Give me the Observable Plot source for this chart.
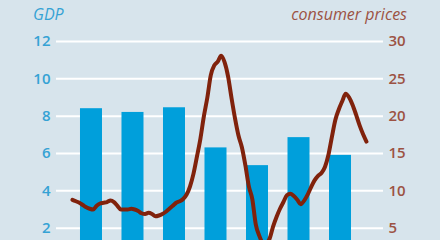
<!DOCTYPE html>
<html>
<head>
<meta charset="utf-8">
<script src="https://cdn.jsdelivr.net/npm/d3@7"></script>
<script src="https://cdn.jsdelivr.net/npm/@observablehq/plot@0.6"></script>
<style>
  html, body { margin: 0; padding: 0; background: #d7e4ec; }
  body { width: 440px; height: 240px; overflow: hidden; }
  #wrap { position: relative; width: 440px; }
  #head { position: relative; height: 28px; font-family: "Open Sans", sans-serif; font-style: italic; font-size: 16px; }
  #head .l { position: absolute; left: 33px; top: 3px; color: #35a2d4; }
  #head .r { position: absolute; right: 33px; top: 3px; color: #9c5243; }
  svg { display: block; background: transparent !important; }
</style>
</head>
<body>
<div id="wrap">
  <div id="head"><span class="l">GDP</span><span class="r">consumer prices</span></div>
  <div id="chart"></div>
</div>
<script>
// GDP growth, % (annual bars)
const years = [2005, 2006, 2007, 2008, 2009, 2010, 2011];
const gdp = [8.4, 8.2, 8.45, 6.3, 5.35, 6.85, 5.9];

// Consumer prices, % change on a year earlier (monthly, Jan 2005 - Feb 2012)
const cpiStartYear = 2005;
const cpi = [
  8.8, 8.6, 8.4, 8.1, 7.8, 7.6, 7.5, 8.0, 8.3, 8.4, 8.5, 8.7,      // 2005
  8.5, 8.0, 7.5, 7.5, 7.5, 7.6, 7.5, 7.3, 7.0, 6.9, 7.05, 6.9,     // 2006
  6.6, 6.7, 6.9, 7.2, 7.6, 8.0, 8.4, 8.6, 8.9, 9.5, 10.6, 12.3,    // 2007
  14.6, 17.0, 20.0, 22.5, 25.5, 26.8, 27.3, 28.1, 27.2, 25.3, 22.4, 19.7, // 2008
  17.4, 15.8, 13.4, 10.6, 8.9, 5.5, 4.0, 3.1, 3.0, 3.6, 5.2, 6.5,  // 2009
  7.6, 8.5, 9.4, 9.6, 9.3, 8.8, 8.2, 8.7, 9.5, 10.5, 11.4, 12.0,   // 2010
  12.4, 13.2, 14.8, 17.2, 19.5, 20.9, 22.0, 23.0, 22.5, 21.5, 20.2, 18.8, // 2011
  17.6, 16.6                                                        // 2012
];

const gdpTicks = [2, 4, 6, 8, 10, 12];
const cpiTicks = [5, 10, 15, 20, 25, 30];
const ratio = 30 / 12; // right axis maps 0-30 onto left axis 0-12

const gdpData = years.map((y, i) => ({year: y, value: gdp[i]}));
const cpiData = cpi.map((v, i) => ({t: cpiStartYear + (i + 0.5) / 12, value: v / ratio}));

const chart = Plot.plot({
  width: 440,
  height: 237,
  marginTop: 13,
  marginBottom: 0,
  marginLeft: 56,
  marginRight: 57,
  style: {background: "transparent", fontFamily: "'Open Sans', sans-serif", fontSize: "15px", fontWeight: 600},
  x: {domain: [2004.657, 2012.536], axis: null},
  y: {domain: [0, 12], axis: null},
  marks: [
    Plot.ruleY(gdpTicks, {stroke: "#ffffff", strokeWidth: 2}),
    Plot.rectY(gdpData, {x: "year", y: "value", interval: 1, insetLeft: 9.75, insetRight: 9.75, fill: "#009fdb"}),
    Plot.line(cpiData, {x: "t", y: "value", stroke: "#80220c", strokeWidth: 4, curve: "monotone-x", strokeLinejoin: "round", strokeLinecap: "round"}),
    Plot.axisY({anchor: "left", ticks: gdpTicks, tickSize: 0, tickPadding: 6, color: "#35a2d4", label: null}),
    Plot.axisY({anchor: "right", ticks: cpiTicks.map(v => v / ratio), tickFormat: d => Math.round(d * ratio), tickSize: 0, tickPadding: 5, color: "#9c5243", label: null})
  ]
});
document.getElementById("chart").appendChild(chart);
</script>
</body>
</html>
